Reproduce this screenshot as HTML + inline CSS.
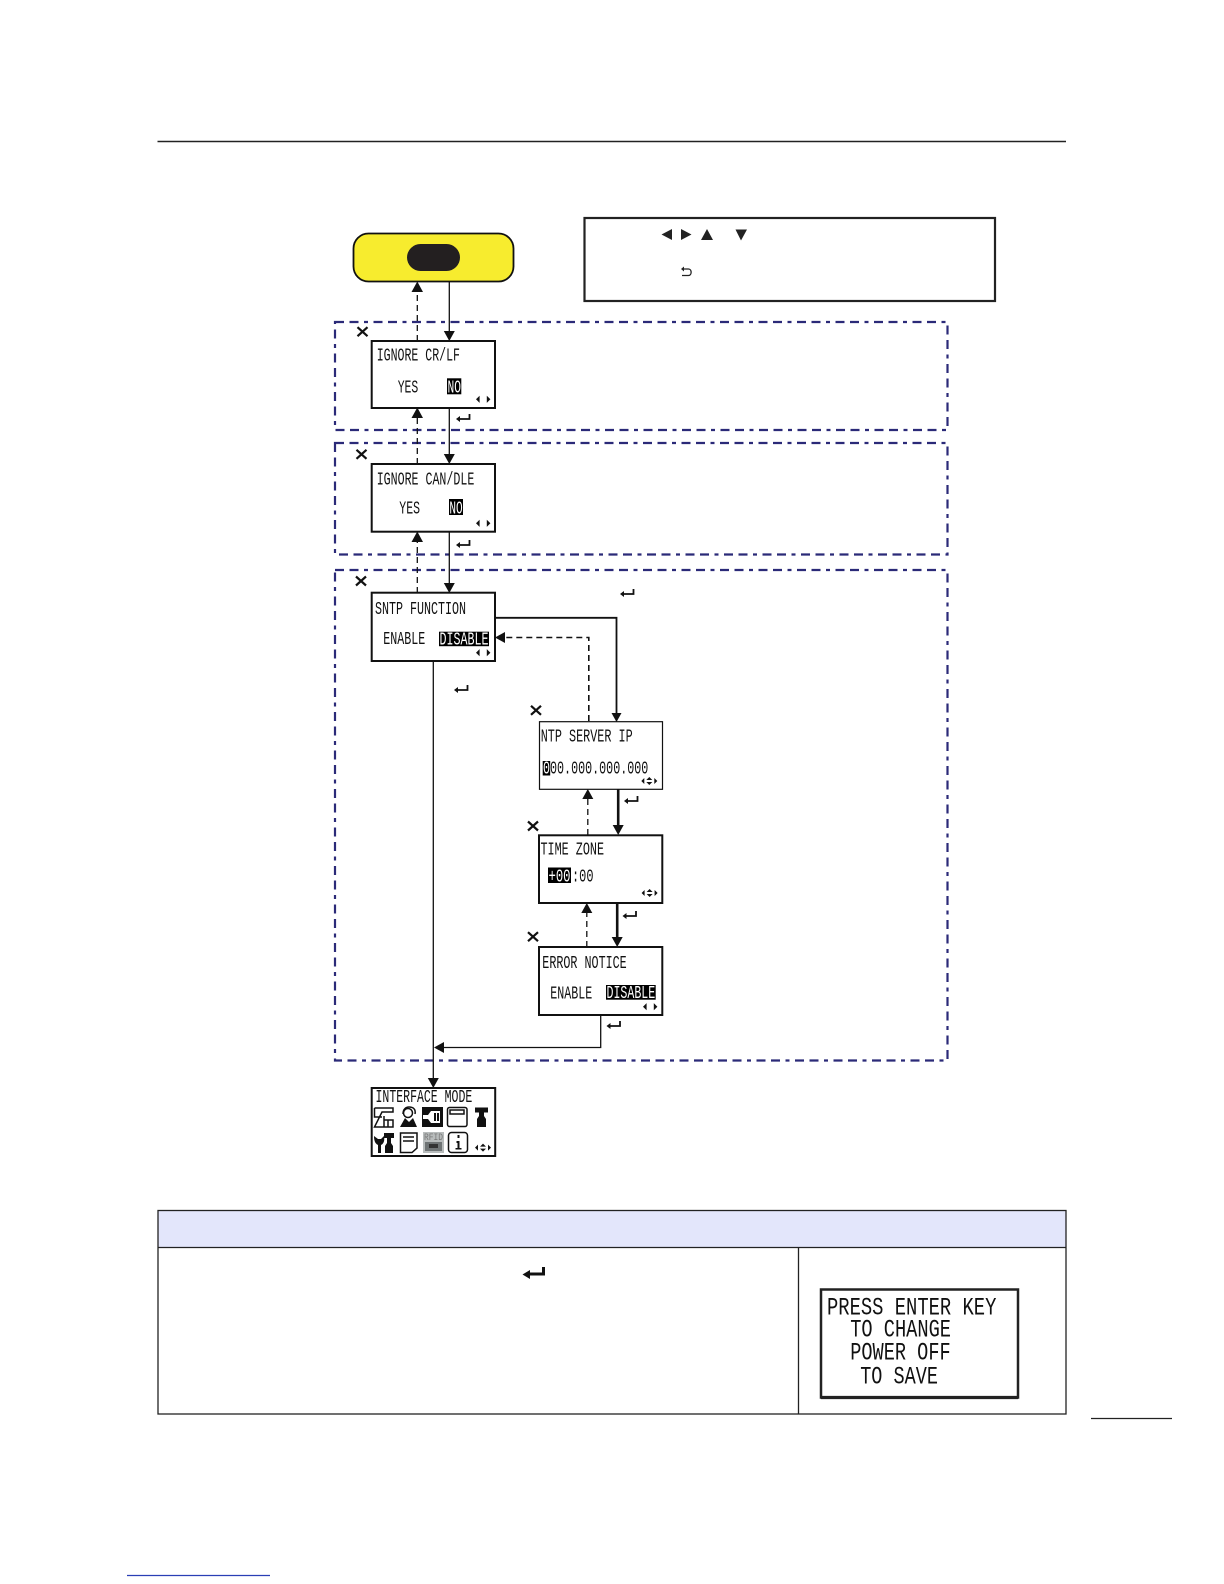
<!DOCTYPE html>
<html><head><meta charset="utf-8"><style>
html,body{margin:0;padding:0;background:#fff}
svg{display:block}
text{font-family:"Liberation Mono",monospace;font-size:18px;fill:#111}
.w{fill:#fff}
.big{font-size:25px}
.g{fill:none;stroke:#2b2a78;stroke-width:2.2;stroke-dasharray:9 5.500 9 5.500 4 5.500}
.s{fill:#fff;stroke:#111;stroke-width:2}
.l{fill:none;stroke:#111;stroke-width:1.3}
.t{fill:none;stroke:#111;stroke-width:2.6}
.d{fill:none;stroke:#111;stroke-width:1.3;stroke-dasharray:6 4}
</style></head><body>
<svg width="1224" height="1584" viewBox="0 0 1224 1584" xmlns="http://www.w3.org/2000/svg">
<defs>
<g id="e"><path d="M6.5 -4V1H-4" fill="none" stroke="#111" stroke-width="1.8"/><path d="M-7 1L-3 -2V4Z" fill="#111"/></g>
<g id="x"><path d="M-5 -4.5L5 4.5M5 -4.5L-5 4.5" stroke="#111" stroke-width="2.2" fill="none"/></g>
<g id="lr"><path d="M0 0L3.6 -3.6V3.6Z M14.4 0L10.8 -3.6V3.6Z" fill="#111"/></g>
<g id="n4"><path d="M-8 0L-5 -3V3Z M8 0L5 -3V3Z M-3 -1L0 -4L3 -1Z M-3 1L0 4L3 1Z" fill="#111"/></g>
</defs>

<line x1="157.500" y1="141.500" x2="1066" y2="141.500" stroke="#222" stroke-width="1.4"/>

<rect x="353.500" y="233.500" width="160" height="48" rx="15" fill="#f7ec2e" stroke="#111" stroke-width="1.8"/>
<rect x="407" y="244" width="53" height="27" rx="13.500" fill="#231f20"/>

<rect x="584.500" y="218" width="410.500" height="83" fill="#fff" stroke="#222" stroke-width="2.2"/>
<path d="M661.500 234.500L672 229V240Z M691.500 234.500L681 229V240Z M707 229L713 240H701Z M741 240.500L735.500 229.500H747Z" fill="#222"/>
<path d="M683 269H688.500C692 269 692 275.500 688.500 275.500H682" fill="none" stroke="#222" stroke-width="1.3"/><path d="M681 269L684 266.500V271.500Z" fill="#222"/>

<rect class="g" x="335" y="322" width="612.500" height="108"/>
<rect class="g" x="335" y="443" width="612.500" height="111.500"/>
<rect class="g" x="335" y="570" width="612.500" height="490.500"/>

<path class="d" d="M417.300 341V290"/><path d="M417.300 281.500L423 292H411.500Z" fill="#111"/>
<path class="l" d="M449.300 282V333"/><path d="M449.300 341L443.800 331H454.800Z" fill="#111"/>
<path class="d" d="M417.300 464V416"/><path d="M417.300 407.500L423 418H411.500Z" fill="#111"/>
<path class="l" d="M449.300 408V456"/><path d="M449.300 464L443.800 454H454.800Z" fill="#111"/>
<path class="d" d="M417.300 593V540"/><path d="M417.300 531.500L423 542H411.500Z" fill="#111"/>
<path class="l" d="M449.300 532V585"/><path d="M449.300 593L443.800 583H454.800Z" fill="#111"/>

<path class="l" style="stroke-width:1.8" d="M495 617.800H616.500V714"/><path d="M616.500 722L611.500 713H621.500Z" fill="#111"/>
<path class="d" style="stroke-width:1.6" d="M588.800 721V637.500H503"/><path d="M495 637.500L505 632V643Z" fill="#111"/>
<path class="l" d="M433.300 661V1080"/><path d="M433.300 1088L427.800 1078H438.800Z" fill="#111"/>

<path class="t" d="M618.200 789V827"/><path d="M618.200 835L612.700 825H623.700Z" fill="#111"/>
<path class="d" d="M587.800 835V797"/><path d="M587.800 789L593.300 799H582.300Z" fill="#111"/>
<path class="t" d="M617.200 903V939"/><path d="M617.200 947L611.700 937H622.700Z" fill="#111"/>
<path class="d" d="M586.800 947V911"/><path d="M586.800 903L592.300 913H581.300Z" fill="#111"/>
<path class="l" d="M600.700 1015V1047.500H442"/><path d="M434 1047.500L444 1042V1053Z" fill="#111"/>

<use href="#e" x="463" y="418"/><use href="#e" x="463" y="544"/><use href="#e" x="627" y="593"/><use href="#e" x="461" y="689"/><use href="#e" x="631" y="800"/><use href="#e" x="629.500" y="915"/><use href="#e" x="613.500" y="1025"/>
<use href="#x" x="362.500" y="331.700"/><use href="#x" x="361.500" y="454.300"/><use href="#x" x="361" y="581"/><use href="#x" x="536" y="710.300"/><use href="#x" x="533" y="826"/><use href="#x" x="533" y="936.700"/>

<rect class="s" x="371.700" y="341" width="123.300" height="67"/>
<text x="376.700" y="360.700" textLength="83.300" lengthAdjust="spacingAndGlyphs">IGNORE CR/LF</text>
<text x="397.700" y="392.300" textLength="20.600" lengthAdjust="spacingAndGlyphs">YES</text>
<rect x="447" y="378.300" width="14.300" height="16" fill="#000"/>
<text class="w" x="447.500" y="392.300" textLength="13.500" lengthAdjust="spacingAndGlyphs">NO</text>
<use href="#lr" x="476" y="399.300"/>

<rect class="s" x="371.700" y="464" width="123.300" height="67.700"/>
<text x="376.700" y="484.300" textLength="97.600" lengthAdjust="spacingAndGlyphs">IGNORE CAN/DLE</text>
<text x="399.300" y="513.300" textLength="20.700" lengthAdjust="spacingAndGlyphs">YES</text>
<rect x="449" y="499" width="14" height="16" fill="#000"/>
<text class="w" x="449.400" y="513.300" textLength="13.300" lengthAdjust="spacingAndGlyphs">NO</text>
<use href="#lr" x="476" y="523.300"/>

<rect class="s" x="371.700" y="592.700" width="123.300" height="68.300"/>
<text x="375" y="614" textLength="91" lengthAdjust="spacingAndGlyphs">SNTP FUNCTION</text>
<text x="383.300" y="644" textLength="42" lengthAdjust="spacingAndGlyphs">ENABLE</text>
<rect x="439" y="631.700" width="50" height="14.500" fill="#000"/>
<text class="w" x="439.500" y="644.500" textLength="49" lengthAdjust="spacingAndGlyphs">DISABLE</text>
<use href="#lr" x="476" y="652.700"/>

<rect class="s" style="stroke-width:1.2" x="539.500" y="721.700" width="123" height="67.600"/>
<text x="540.700" y="741.700" textLength="92" lengthAdjust="spacingAndGlyphs">NTP SERVER IP</text>
<rect x="542.700" y="761" width="7.500" height="14.500" fill="#000"/>
<text class="w" x="543" y="773.300" textLength="7" lengthAdjust="spacingAndGlyphs">0</text>
<text x="550" y="773.300" textLength="98.300" lengthAdjust="spacingAndGlyphs">00.000.000.000</text>
<use href="#n4" x="649.300" y="781"/>

<rect class="s" x="539" y="835.300" width="123.300" height="67.700"/>
<text x="540.500" y="854.600" textLength="63.500" lengthAdjust="spacingAndGlyphs">TIME ZONE</text>
<rect x="548" y="867.500" width="23" height="15.500" fill="#000"/>
<text class="w" x="548.500" y="881.500" textLength="22" lengthAdjust="spacingAndGlyphs">+00</text>
<text x="572" y="881.500" textLength="21.500" lengthAdjust="spacingAndGlyphs">:00</text>
<use href="#n4" x="649.600" y="893"/>

<rect class="s" x="539" y="947" width="123.300" height="68"/>
<text x="542.300" y="968" textLength="84.400" lengthAdjust="spacingAndGlyphs">ERROR NOTICE</text>
<text x="550.300" y="998.300" textLength="42" lengthAdjust="spacingAndGlyphs">ENABLE</text>
<rect x="606" y="985" width="49.700" height="14.700" fill="#000"/>
<text class="w" x="606.500" y="998" textLength="48.700" lengthAdjust="spacingAndGlyphs">DISABLE</text>
<use href="#lr" x="643" y="1006.700"/>

<rect class="s" x="371.700" y="1088" width="123.500" height="68"/>
<text x="375.500" y="1102" textLength="96.800" lengthAdjust="spacingAndGlyphs">INTERFACE MODE</text>

<g fill="none" stroke="#111" stroke-width="1.5">
<path d="M374.500 1108H393V1112H382L374.500 1127H393M374.500 1108V1117H382M384 1116V1127H393V1120H384M388 1120V1127"/>
<path d="M403 1114C403 1109 406 1107 409 1107C413 1107 416 1109 415 1114"/>
<circle cx="408" cy="1113" r="4.500"/>
<rect x="447.500" y="1107.500" width="19.500" height="19" rx="2"/>
<rect x="450" y="1110" width="14" height="4"/>
<path d="M400.500 1133H417V1148L412 1152.500H400.500ZM403 1137H414M403 1141H414"/>
<rect x="448.500" y="1132.500" width="19" height="20" rx="3"/>
</g>
<path d="M400 1127L405 1118L409 1122L413 1118L417 1127Z" fill="#111"/>
<rect x="422" y="1107" width="21" height="20" fill="#111"/>
<path d="M423 1115H428L431 1111H440V1123H431L428 1119H423Z" fill="#fff"/>
<rect x="434" y="1113" width="2" height="8" fill="#111"/><rect x="437" y="1113" width="2" height="8" fill="#111"/>
<path d="M475 1107.500H488V1112.500H484V1116L486 1119V1127H477V1119L479 1116V1112.500H475Z" fill="#111"/>
<path d="M384 1133H394V1138H391V1143L393 1146V1153H385V1146L387 1143V1138H384Z" fill="#111"/>
<path d="M374 1136C374 1142 376 1144 378 1145V1153H381V1145C383 1144 385 1142 384 1136L381 1139H378Z" fill="#111"/>
<rect x="423" y="1132" width="21" height="21" fill="#b8bcbc"/>
<rect x="425" y="1142" width="17" height="9" fill="#6f7475"/>
<rect x="429" y="1144" width="9" height="4" fill="#333"/>
<text x="424" y="1140" textLength="19" lengthAdjust="spacingAndGlyphs" style="font-size:10px;fill:#777">RFID</text>
<path d="M457.500 1135H459.500V1138H457.500ZM456.500 1141H459.500V1148H461.500V1149.500H455.500V1148H457.500V1143H456.500Z" fill="#111"/>
<use href="#n4" x="483" y="1147.600"/>

<rect x="158" y="1210.500" width="908" height="36.500" fill="#e3e6fb"/>
<rect x="158" y="1210.500" width="908" height="203.500" fill="none" stroke="#222" stroke-width="1.3"/>
<line x1="158" y1="1247.500" x2="1066" y2="1247.500" stroke="#222" stroke-width="1.3"/>
<line x1="798.500" y1="1247.500" x2="798.500" y2="1414" stroke="#222" stroke-width="1.3"/>

<path d="M527 1274H543.500V1267" fill="none" stroke="#111" stroke-width="3"/><path d="M522.500 1274.500L530 1270V1279Z" fill="#111"/>

<rect x="821" y="1289.500" width="197" height="108" fill="#fff" stroke="#222" stroke-width="2.500"/>
<line x1="821" y1="1397.500" x2="1018" y2="1397.500" stroke="#222" stroke-width="3.200"/>
<text class="big" x="827" y="1314.300" textLength="169.400" lengthAdjust="spacingAndGlyphs">PRESS ENTER KEY</text>
<text class="big" x="850.200" y="1336.700" textLength="100.800" lengthAdjust="spacingAndGlyphs">TO CHANGE</text>
<text class="big" x="850.200" y="1359.300" textLength="100.500" lengthAdjust="spacingAndGlyphs">POWER OFF</text>
<text class="big" x="860.200" y="1383.300" textLength="77.800" lengthAdjust="spacingAndGlyphs">TO SAVE</text>

<line x1="1091" y1="1418.500" x2="1172" y2="1418.500" stroke="#222" stroke-width="1.2"/>
<line x1="127" y1="1575.500" x2="270" y2="1575.500" stroke="#2a3fb5" stroke-width="1.2"/>
</svg>
</body></html>
